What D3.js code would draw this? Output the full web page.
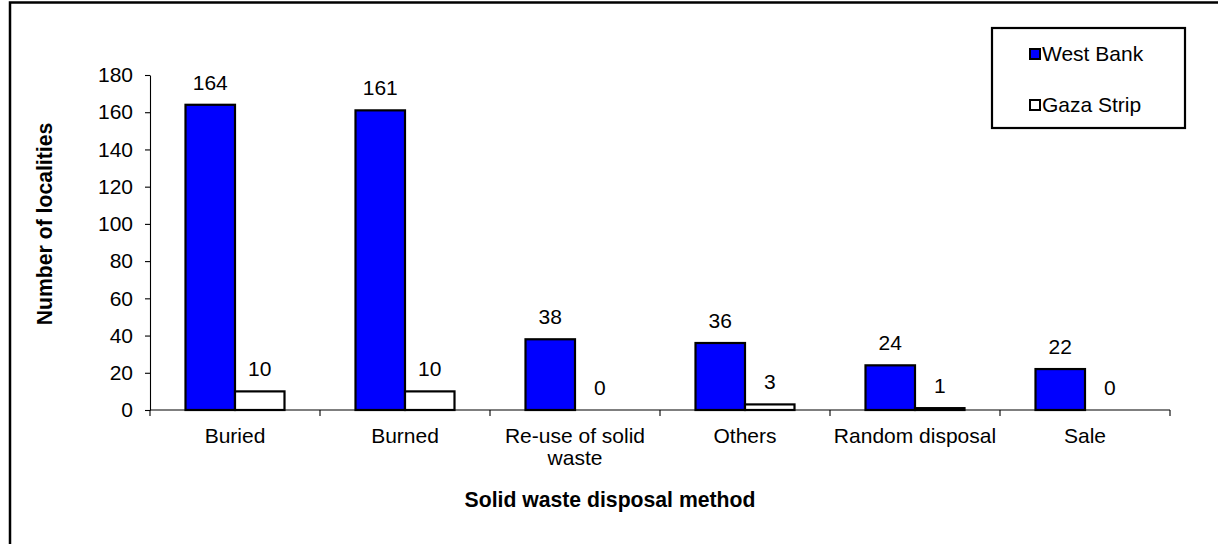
<!DOCTYPE html>
<html>
<head>
<meta charset="utf-8">
<script src="https://cdn.jsdelivr.net/npm/d3@7"></script>
<style>
  html, body { margin: 0; padding: 0; background: #fff; }
  svg { display: block; font-family: Arial, "Liberation Sans", sans-serif; }
</style>
</head>
<body>
<svg id="chart" width="1218" height="544"></svg>
<script>
const categories = ["Buried", "Burned", "Re-use of solid waste", "Others", "Random disposal", "Sale"];
const seriesNames = ["West Bank", "Gaza Strip"];
const westBank = [164, 161, 38, 36, 24, 22];
const gazaStrip = [10, 10, 0, 3, 1, 0];
const yTicks = [0, 20, 40, 60, 80, 100, 120, 140, 160, 180];
const seriesColors = ["#0000FF", "#FFFFFF"];

const FS = 21;
const svg = d3.select("#chart");

// outer frame (only top and left visible)
svg.append("rect")
  .attr("x", 10).attr("y", 2.5)
  .attr("width", 1400).attr("height", 800)
  .attr("fill", "none").attr("stroke", "#000").attr("stroke-width", 2.5);

const plot = { left: 150, right: 1170, top: 75, bottom: 410 };

const x0 = d3.scaleBand().domain(categories).range([plot.left, plot.right]).padding(0);
const x1 = d3.scaleBand().domain(seriesNames).range([35.5, 134.5]).padding(0);
const y = d3.scaleLinear().domain([0, 180]).range([plot.bottom, plot.top]);
const color = d3.scaleOrdinal().domain(seriesNames).range(seriesColors);

const data = categories.map((c, i) => ({
  cat: c,
  values: [
    { name: seriesNames[0], v: westBank[i] },
    { name: seriesNames[1], v: gazaStrip[i] }
  ]
}));

// Y axis
const yAxis = svg.append("g")
  .attr("transform", `translate(${plot.left},0)`)
  .call(d3.axisLeft(y).tickValues(yTicks).tickSize(5).tickPadding(12).tickSizeOuter(0));
yAxis.selectAll("text").attr("font-size", FS).attr("font-family", "Arial, 'Liberation Sans', sans-serif").attr("fill", "#000");
yAxis.selectAll("line, path").attr("stroke", "#000").attr("stroke-width", 1.1);

// X axis line & ticks at boundaries
const xAxisG = svg.append("g");
xAxisG.append("line")
  .attr("x1", plot.left).attr("x2", plot.right)
  .attr("y1", y(0)).attr("y2", y(0))
  .attr("stroke", "#000").attr("stroke-width", 1.1);
const boundaries = categories.map(c => x0(c)).concat([x0(categories[categories.length - 1]) + x0.bandwidth()]);
xAxisG.selectAll("line.tick").data(boundaries).enter().append("line")
  .attr("class", "tick")
  .attr("x1", d => d).attr("x2", d => d)
  .attr("y1", y(0)).attr("y2", y(0) + 6)
  .attr("stroke", "#000").attr("stroke-width", 1.1);

// category labels with wrapping
function wrapLabel(text) {
  const words = text.split(" ");
  const lines = [];
  let cur = [];
  const tmp = svg.append("text").attr("font-size", FS).attr("visibility", "hidden");
  words.forEach(w => {
    const test = cur.concat([w]).join(" ");
    tmp.text(test);
    if (tmp.node().getComputedTextLength() > 172 && cur.length) {
      lines.push(cur.join(" "));
      cur = [w];
    } else cur.push(w);
  });
  if (cur.length) lines.push(cur.join(" "));
  tmp.remove();
  return lines;
}
const catLabels = xAxisG.selectAll("text.cat").data(categories).enter().append("text")
  .attr("class", "cat")
  .attr("x", d => x0(d) + x0.bandwidth() / 2)
  .attr("y", 443)
  .attr("text-anchor", "middle")
  .attr("font-size", FS)
  .attr("fill", "#000");
catLabels.each(function(d) {
  const lines = wrapLabel(d);
  const t = d3.select(this);
  lines.forEach((ln, i) => {
    t.append("tspan").attr("x", x0(d) + x0.bandwidth() / 2).attr("dy", i === 0 ? 0 : 22).text(ln);
  });
});

// bars
const groups = svg.append("g").selectAll("g.grp").data(data).enter().append("g")
  .attr("class", "grp")
  .attr("transform", d => `translate(${x0(d.cat)},0)`);

groups.selectAll("rect").data(d => d.values.filter(v => v.v > 0)).enter().append("rect")
  .attr("x", d => x1(d.name))
  .attr("y", d => y(d.v))
  .attr("width", x1.bandwidth())
  .attr("height", d => y(0) - y(d.v))
  .attr("fill", d => color(d.name))
  .attr("stroke", "#000")
  .attr("stroke-width", 2.2);

groups.selectAll("text").data(d => d.values).enter().append("text")
  .attr("x", d => x1(d.name) + x1.bandwidth() / 2)
  .attr("y", d => y(d.v) - 15)
  .attr("text-anchor", "middle")
  .attr("font-size", FS)
  .attr("fill", "#000")
  .text(d => d.v);

// axis titles
svg.append("text")
  .attr("transform", "translate(52,224) rotate(-90)")
  .attr("text-anchor", "middle")
  .attr("font-size", 21.2)
  .attr("font-weight", "bold")
  .attr("fill", "#000")
  .text("Number of localities");

svg.append("text")
  .attr("x", 610).attr("y", 507)
  .attr("text-anchor", "middle")
  .attr("font-size", 21.2)
  .attr("font-weight", "bold")
  .attr("fill", "#000")
  .text("Solid waste disposal method");

// legend
const legend = svg.append("g");
legend.append("rect")
  .attr("x", 992).attr("y", 28).attr("width", 193).attr("height", 100)
  .attr("fill", "#fff").attr("stroke", "#000").attr("stroke-width", 2.2);
const legendY = [54, 105];
const li = legend.selectAll("g.item").data(seriesNames).enter().append("g").attr("class", "item");
li.append("rect")
  .attr("x", 1030).attr("y", (d, i) => legendY[i] - 5)
  .attr("width", 10).attr("height", 10)
  .attr("fill", d => color(d)).attr("stroke", "#000").attr("stroke-width", 2);
li.append("text")
  .attr("x", 1042).attr("y", (d, i) => legendY[i] + 7)
  .attr("font-size", FS)
  .attr("fill", "#000")
  .text(d => d);
</script>
</body>
</html>
